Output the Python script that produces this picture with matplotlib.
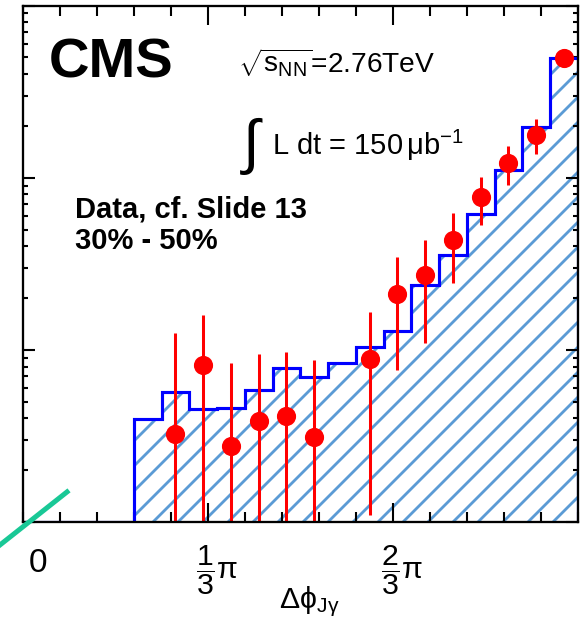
import numpy as np
import matplotlib
matplotlib.use("Agg")
import matplotlib.pyplot as plt
from matplotlib.lines import Line2D
from matplotlib.ticker import FixedLocator, MultipleLocator, LogLocator, NullFormatter, FixedFormatter
from matplotlib.transforms import ScaledTranslation

# binning: 20 bins of pi/20 in delta phi
n_bins = 20
bin_edges = np.linspace(0, np.pi, n_bins + 1)

# histogram (blue, hatched), per bin
mc_frac = [0, 0, 0, 0, 0.00397, 0.00565, 0.00452, 0.00462, 0.00585, 0.00789,
           0.00693, 0.00838, 0.01045, 0.01288, 0.02366, 0.03563, 0.0614, 0.1114,
           0.196, 0.497]

# data points (red) - bin index, value, error
data_bins = [5, 6, 7, 8, 9, 10, 12, 13, 14, 15, 16, 17, 18, 19]
data_frac = [0.00324, 0.00811, 0.00277, 0.00388, 0.00413, 0.00310, 0.00883,
             0.0211, 0.0273, 0.0433, 0.0773, 0.1217, 0.178, 0.497]
data_err = [0.00926, 0.00786, 0.00561, 0.00556, 0.00557, 0.00557, 0.00773,
            0.0135, 0.0164, 0.0188, 0.0243, 0.0305, 0.0405, 0.06]

tick_labels = [r'$\dfrac{1}{3}\mathrm{\pi}$', r'$\dfrac{2}{3}\mathrm{\pi}$']

W, H, DPI = 581, 633, 150
plt.rcParams['font.family'] = ['Liberation Sans', 'DejaVu Sans']
plt.rcParams['mathtext.fontset'] = 'custom'
plt.rcParams['mathtext.rm'] = 'Liberation Sans'
plt.rcParams['mathtext.it'] = 'Liberation Sans:italic'
plt.rcParams['mathtext.bf'] = 'Liberation Sans:bold'
plt.rcParams['hatch.linewidth'] = 1.35

fig = plt.figure(figsize=((W + 0.4) / DPI, (H + 0.4) / DPI), dpi=DPI)
ax = fig.add_axes([22.7 / W, 1 - 522 / H, (577.5 - 22.7) / W, (522 - 6) / H])


def px(x, y):
    return x / W, 1 - y / H


ylo, yhi = 1e-3, 1.0
ax.set_yscale('log')
ax.set_xlim(0, np.pi)
ax.set_ylim(ylo, yhi)

mc = np.clip(np.array(mc_frac), ylo, None)
ax.stairs(mc, bin_edges, baseline=ylo, fill=True, hatch='//', facecolor='none',
          edgecolor='#5b9bd5', linewidth=0, zorder=1)
ax.stairs(mc, bin_edges, baseline=ylo, color='#0000ff', linewidth=1.5, zorder=2)

centers = 0.5 * (bin_edges[:-1] + bin_edges[1:])
xd = centers[data_bins]
ax.errorbar(xd, data_frac, yerr=data_err, fmt='o', color='#ff0000', ms=8.2,
            elinewidth=1.45, capsize=0, zorder=3)

# ticks
ax.xaxis.set_major_locator(FixedLocator([np.pi / 3, 2 * np.pi / 3]))
ax.xaxis.set_major_formatter(FixedFormatter(tick_labels))
ax.xaxis.set_minor_locator(MultipleLocator(np.pi / 15))
ax.yaxis.set_major_locator(LogLocator(base=10))
ax.yaxis.set_minor_locator(LogLocator(base=10, subs=np.arange(2, 10)))
ax.yaxis.set_major_formatter(NullFormatter())
ax.yaxis.set_minor_formatter(NullFormatter())
ax.tick_params(axis='x', which='both', direction='in', top=True, width=1.0,
               labelsize=14.5, pad=10)
ax.tick_params(axis='x', which='major', length=9)
ax.tick_params(axis='x', which='minor', length=4.8)
ax.tick_params(axis='y', which='both', direction='in', right=True, width=1.0)
ax.tick_params(axis='y', which='major', length=5.8)
ax.tick_params(axis='y', which='minor', length=2.6)
for lab in ax.get_xticklabels():
    lab.set_transform(lab.get_transform() + ScaledTranslation(9 / DPI, 0, fig.dpi_scale_trans))
for s in ax.spines.values():
    s.set_linewidth(1.1)
    s.set_zorder(5)

# labels and texts
fig.text(*px(38, 572), '0', fontsize=16, ha='center', va='baseline')
fig.text(*px(279, 608), r'$\mathrm{\Delta\phi_{J\gamma}}$', fontsize=14.5, ha='left', va='baseline')
fig.text(*px(49, 77), 'CMS', fontsize=27, fontweight='bold', ha='left', va='baseline')
fig.text(*px(238, 72), r'$\sqrt{\mathrm{s_{NN}}}$=2.76TeV', fontsize=13.5, ha='left', va='baseline')
fig.text(*px(243, 162), '\u222b', fontsize=29, ha='left', va='baseline')
fig.text(*px(272, 155), r'L dt = 150$\,\mathrm{\mu}$b$^{\mathrm{-1}}$', fontsize=14, ha='left', va='baseline')
fig.text(*px(75, 217), 'Data, cf. Slide 13', fontsize=14, fontweight='bold', ha='left', va='baseline')
fig.text(*px(75, 249), '30% - 50%', fontsize=14, fontweight='bold', ha='left', va='baseline')

fig.add_artist(Line2D([0, 67 / W], [1 - 545 / H, 1 - 492 / H], transform=fig.transFigure,
                      color='#19c896', linewidth=2.4, clip_on=False))

fig.savefig('out.png', dpi=DPI)
